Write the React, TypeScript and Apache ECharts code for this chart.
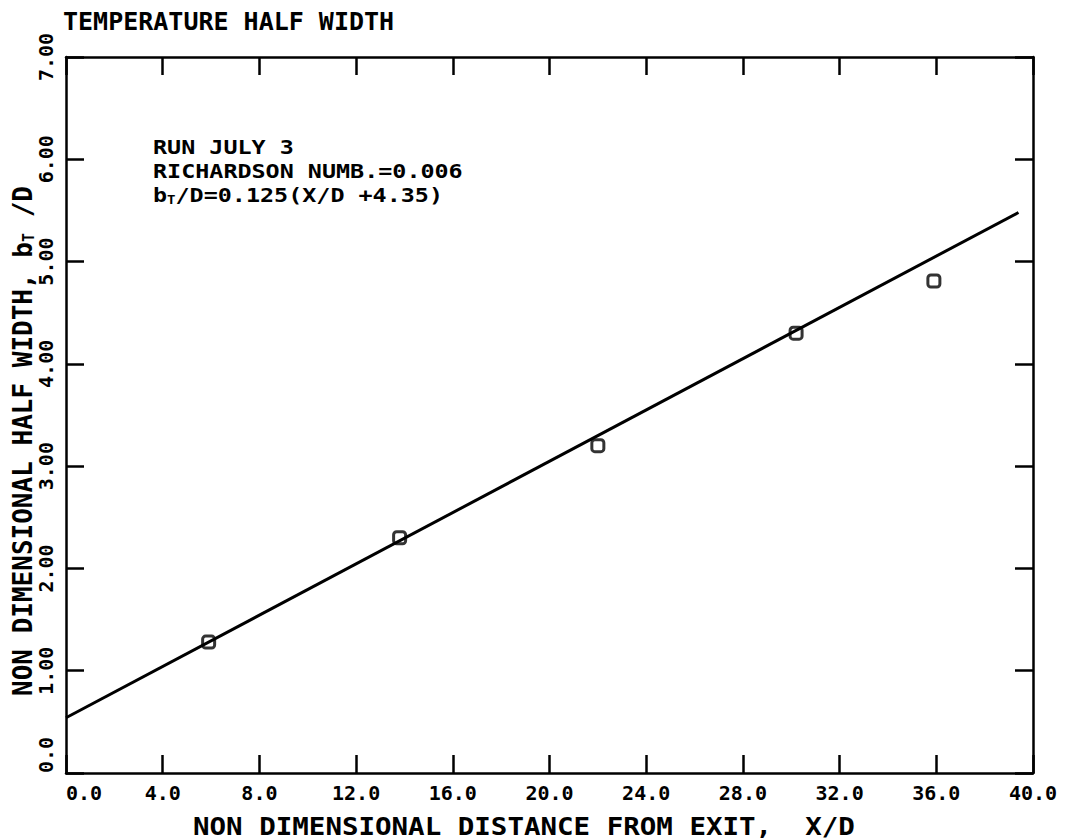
import React, { useEffect, useRef } from "react";
import * as echarts from "echarts";

const xTickLabels = ["0.0", "4.0", "8.0", "12.0", "16.0", "20.0", "24.0", "28.0", "32.0", "36.0", "40.0"];
const yTickLabels = ["0.0", "1.00", "2.00", "3.00", "4.00", "5.00", "6.00", "7.00"];
const pointX = [5.9, 13.8, 22.0, 30.2, 35.9];
const pointY = [1.28, 2.3, 3.2, 4.3, 4.81];
const fitX = [0, 39.4];
const fitY = [0.54, 5.48];

const FONT = "DejaVu Sans Mono";
const W = "bold";

export default function App() {
  const ref = useRef<HTMLDivElement>(null);
  useEffect(() => {
    if (!ref.current) return;
    const chart = echarts.init(ref.current, null, { renderer: "svg" });
    const axisCommon = {
      axisLine: { show: true, onZero: false, lineStyle: { color: "#000", width: 2.5 } },
      axisTick: { show: true, inside: true, length: 18, lineStyle: { color: "#000", width: 2.5 } },
      splitLine: { show: false },
    };
    chart.setOption({
      animation: false,
      backgroundColor: "#fff",
      title: {
        text: "TEMPERATURE HALF WIDTH",
        left: 58,
        top: 4,
        textStyle: { fontFamily: FONT, fontSize: 25, fontWeight: W, color: "#000" },
      },
      grid: { left: 66, right: 38, top: 57, bottom: 67, outerBoundsMode: "none", containLabel: false },
      xAxis: [
        {
          type: "value",
          min: 0,
          max: 40,
          interval: 4,
          position: "bottom",
          ...axisCommon,
          axisLabel: {
            show: true,
            margin: 10,
            fontFamily: FONT,
            fontWeight: W,
            fontSize: 20,
            color: "#000",
            alignMinLabel: "left",
            formatter: (v: number) => xTickLabels[Math.round(v / 4)] ?? "",
          },
        },
        {
          type: "value",
          min: 0,
          max: 40,
          interval: 4,
          position: "top",
          ...axisCommon,
          axisLabel: { show: false },
        },
      ],
      yAxis: [
        {
          type: "value",
          min: 0,
          max: 7,
          interval: 1,
          position: "left",
          ...axisCommon,
          axisLabel: {
            show: true,
            rotate: 90,
            margin: 10,
            fontFamily: FONT,
            fontWeight: W,
            fontSize: 20,
            color: "#000",
            alignMinLabel: "left",
            formatter: (v: number) => yTickLabels[Math.round(v)] ?? "",
          },
        },
        {
          type: "value",
          min: 0,
          max: 7,
          interval: 1,
          position: "right",
          ...axisCommon,
          axisLabel: { show: false },
        },
      ],
      graphic: [
        {
          type: "text",
          x: 193,
          y: 826,
          scaleX: 1.1,
          style: {
            text: "NON DIMENSIONAL DISTANCE FROM EXIT,  X/D",
            fontFamily: FONT,
            fontSize: 25,
            fontWeight: W,
            fill: "#000",
            align: "left",
            verticalAlign: "middle",
          },
        },
        {
          type: "text",
          x: 23,
          y: 441,
          rotation: Math.PI / 2,
          style: {
            text: "{n|NON DIMENSIONAL HALF WIDTH, b}{s|T}{n| /D}",
            fontFamily: FONT,
            fontSize: 26,
            fontWeight: W,
            fill: "#000",
            align: "center",
            verticalAlign: "middle",
            rich: {
              n: { fontFamily: FONT, fontSize: 26, fontWeight: W, fill: "#000" },
              s: { fontFamily: FONT, fontSize: 15, fontWeight: W, fill: "#000", padding: [12, 0, 0, 0] },
            },
          },
        },
        {
          type: "text",
          x: 153,
          y: 135,
          scaleX: 1.17,
          style: {
            text: "{n|RUN JULY 3}\n{n|RICHARDSON NUMB.=0.006}\n{n|b}{s|T}{n|/D=0.125(X/D +4.35)}",
            fontFamily: FONT,
            fontSize: 20,
            fontWeight: W,
            fill: "#000",
            rich: {
              n: { fontFamily: FONT, fontSize: 20, fontWeight: W, lineHeight: 24, fill: "#000" },
              s: { fontFamily: FONT, fontSize: 12, fontWeight: W, lineHeight: 24, fill: "#000", padding: [10, 0, 0, 0] },
            },
          },
        },
      ],
      series: [
        {
          type: "line",
          data: fitX.map((x, i) => [x, fitY[i]]),
          showSymbol: false,
          lineStyle: { color: "#000", width: 3 },
          silent: true,
        },
        {
          type: "scatter",
          data: pointX.map((x, i) => [x, pointY[i]]),
          symbol: "roundRect",
          symbolSize: 12,
          itemStyle: { color: "#fff", borderColor: "#000", borderWidth: 3 },
        },
      ],
    });
    return () => chart.dispose();
  }, []);
  return <div ref={ref} style={{ width: 1071, height: 840, position: "absolute", left: 0, top: 0 }} />;
}
